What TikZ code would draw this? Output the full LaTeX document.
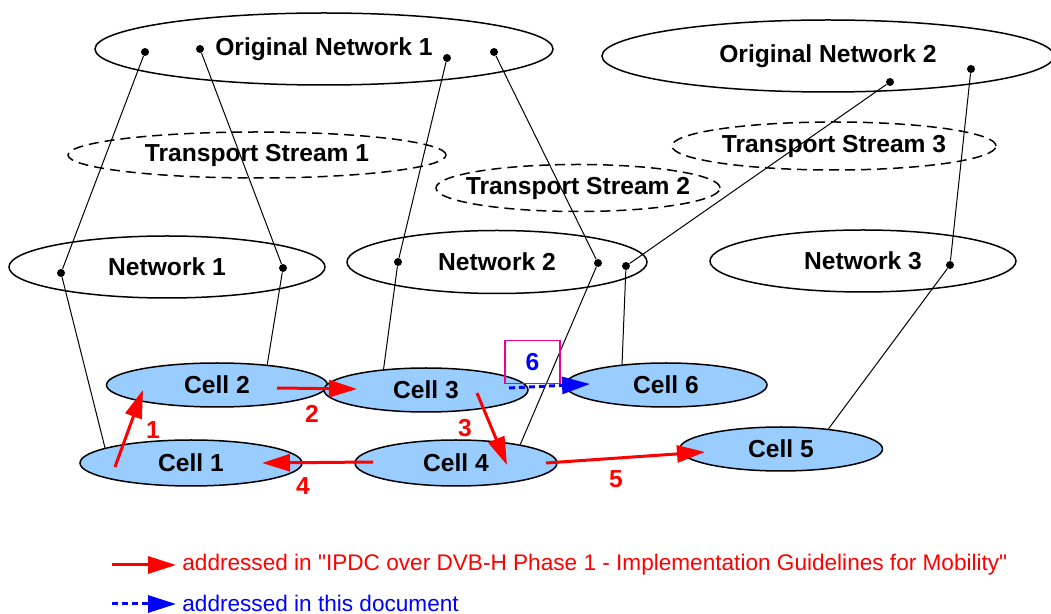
\documentclass[tikz,border=0pt]{standalone}
\usepackage{fontspec}
\setmainfont{Liberation Sans}
\usetikzlibrary{shapes.geometric, arrows.meta}

\definecolor{cellblue}{RGB}{153,204,255}

\tikzset{
  lbl/.style={font=\fontsize{12.3}{14}\selectfont\bfseries},
  net/.style={ellipse, draw, line width=0.75pt, inner sep=0pt, lbl},
  ts/.style={net, dash pattern=on 5pt off 3pt},
  cell/.style={net, fill=cellblue},
  dot/.style={circle, fill, inner sep=0pt, minimum size=4pt},
  link/.style={line width=0.5pt},
  move/.style={red, line width=1.5pt, -{Triangle[length=14pt, width=8.5pt]}},
  plan/.style={blue, line width=1.5pt, dash pattern=on 3pt off 2pt, -{Triangle[length=14pt, width=8.5pt]}},
  num/.style={lbl, red},
  key/.style={anchor=west, inner sep=0pt, font=\fontsize{11.3}{13}\selectfont},
}

\begin{document}
\begin{tikzpicture}[x=0.5pt, y=-0.5pt]
    \useasboundingbox (0,0) rectangle (1051,614);

    \node[net, minimum width=229pt, minimum height=36pt] (on1) at (324,49) {Original Network 1};
    \node[net, minimum width=226pt, minimum height=36pt] (on2) at (828,56) {Original Network 2};

    \node[ts, minimum width=189pt, minimum height=23pt] (ts1) at (257,155) {Transport Stream 1};
    \node[ts, inner xsep=-8pt, minimum width=142pt, minimum height=23.5pt] (ts2) at (578,188) {Transport Stream 2};
    \node[ts, minimum width=162pt, minimum height=24pt] (ts3) at (834,146) {Transport Stream 3};

    \node[net, minimum width=158pt, minimum height=31pt] (net1) at (167,267) {Network 1};
    \node[net, minimum width=150pt, minimum height=31.5pt] (net2) at (497,262) {Network 2};
    \node[net, minimum width=153pt, minimum height=31pt] (net3) at (863,261) {Network 3};

    \node[cell, minimum width=110.5pt, minimum height=22pt] (cell2) at (217,385) {Cell 2};
    \node[cell, minimum width=102pt, minimum height=22pt] (cell3) at (426,390) {Cell 3};
    \node[cell, minimum width=101pt, minimum height=22pt] (cell6) at (666,385) {Cell 6};
    \node[cell, minimum width=111pt, minimum height=23pt] (cell1) at (191,463) {Cell 1};
    \node[cell, minimum width=101pt, minimum height=23pt] (cell4) at (456,463) {Cell 4};
    \node[cell, minimum width=101.5pt, minimum height=22pt] (cell5) at (781,449) {Cell 5};

    % attachment points
    \node[dot] (on1a) at (145,52) {};
    \node[dot] (on1b) at (200,49) {};
    \node[dot] (on1c) at (447,58) {};
    \node[dot] (on1d) at (494,52) {};
    \node[dot] (on2a) at (890,82) {};
    \node[dot] (on2b) at (971,69) {};
    \node[dot] (n1a) at (61,273) {};
    \node[dot] (n1b) at (283,268) {};
    \node[dot] (n2a) at (398,262) {};
    \node[dot] (n2b) at (598,263) {};
    \node[dot] (n2c) at (626,266) {};
    \node[dot] (n3a) at (950,265) {};

    \draw[link] (on1a) -- (n1a) -- (cell1.170);
    \draw[link] (on1b) -- (n1b) -- (cell2.22);
    \draw[link] (on1c) -- (n2a) -- (cell3.154);
    \draw[link] (on1d) -- (n2b) -- (cell4.16);
    \draw[link] (on2a) -- (n2c) -- (cell6.155);
    \draw[link] (on2b) -- (n3a) -- (cell5.23);

    % handovers
    \coordinate (r1s) at (115,467);
    \coordinate (r1e) at (143,390);
    \coordinate (r2s) at (277,388);
    \coordinate (r2e) at (357,389);
    \coordinate (r3s) at (477,393);
    \coordinate (r3e) at (507,465);
    \coordinate (r4s) at (373,462);
    \coordinate (r4e) at (262,463);
    \coordinate (r5s) at (546,463);
    \coordinate (r5e) at (705,452);
    \coordinate (b6s) at (509,388);
    \coordinate (b6e) at (590,384);

    \draw[move] (r1s) -- (r1e);
    \draw[move] (r2s) -- (r2e);
    \draw[move] (r3s) -- (r3e);
    \draw[move] (r4s) -- (r4e);
    \draw[move] (r5s) -- (r5e);

    \node[num] (l1) at (153,430) {1};
    \node[num] (l2) at (312,414) {2};
    \node[num] (l3) at (465,428) {3};
    \node[num] (l4) at (303,486) {4};
    \node[num] (l5) at (616,479) {5};

    \node[draw=magenta, line width=0.75pt, minimum width=27.5pt, minimum height=21.5pt, lbl, text=blue] (box6) at (532.5,362) {6};
    \draw[plan] (b6s) -- (b6e);

    % legend
    \coordinate (k1s) at (112,565);
    \coordinate (k1e) at (176,565);
    \coordinate (k2s) at (112,604);
    \coordinate (k2e) at (176,604);
    \draw[move] (k1s) -- (k1e);
    \draw[plan] (k2s) -- (k2e);
    \node[key, text=red] (k1) at (182,565) {addressed in \textquotedbl IPDC over DVB-H Phase 1 - Implementation Guidelines for Mobility\textquotedbl};
    \node[key, text=blue] (k2) at (182,603) {addressed in this document};
\end{tikzpicture}
\end{document}
